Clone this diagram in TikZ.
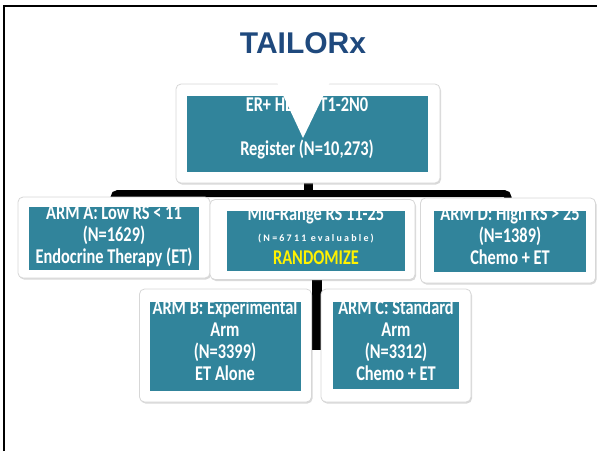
\documentclass[tikz,border=0pt]{standalone}
\usepackage{fontspec}
\usetikzlibrary{shadows,backgrounds}
\newfontfamily\boxfont[FakeStretch=0.78,BoldFont={Carlito Bold}]{Carlito}
\newfontfamily\spacedfont[LetterSpace=22]{Carlito}
\newfontfamily\titlefont{Liberation Sans}
\definecolor{panelteal}{RGB}{49,132,155}
\definecolor{titleblue}{RGB}{31,73,125}
\definecolor{cardline}{RGB}{215,215,215}

\begin{document}
\begin{tikzpicture}[x=1pt,y=-1pt]
    \tikzstyle{card}=[draw=cardline, fill=white, rounded corners=5pt, line width=0.8pt, inner sep=0pt,
        drop shadow={opacity=0.3, shadow xshift=1pt, shadow yshift=-1.5pt}]
    \tikzstyle{panel}=[fill=panelteal, inner sep=0pt]
    \tikzstyle{boxtext}=[text=white, align=center, inner sep=0pt, font=\boxfont\bfseries\fontsize{21}{22}\selectfont]
    \tikzstyle{conn}=[black, line width=8pt]
    \useasboundingbox (0,0) rectangle (597,451);
    % slide frame and title
    \draw[line width=2pt] (4,451) -- (4,6) -- (597,6);
    \node[text=titleblue, font=\titlefont\bfseries\fontsize{30}{32}\selectfont] (title) at (303,43) {TAILORx};
    % cards
    \node[card, minimum width=264, minimum height=99] (regcard) at (308,133.5) {};
    \node[panel, minimum width=241, minimum height=76] (reg) at (307.5,134) {};
    \node[card, minimum width=192, minimum height=81] (armacard) at (114,237.5) {};
    \node[panel, minimum width=170, minimum height=63] (arma) at (114,238.5) {};
    \node[card, minimum width=205, minimum height=80] (midcard) at (312.5,239.5) {};
    \node[panel, minimum width=178, minimum height=60] (mid) at (316,241) {};
    \node[card, minimum width=175, minimum height=85] (armdcard) at (508,240.5) {};
    \node[panel, minimum width=152, minimum height=61] (armd) at (510,241.5) {};
    \node[card, minimum width=172, minimum height=113] (armbcard) at (225.5,345.5) {};
    \node[panel, minimum width=151, minimum height=89] (armb) at (225.5,346.5) {};
    \node[card, minimum width=150, minimum height=113] (armccard) at (396,345.5) {};
    \node[panel, minimum width=126, minimum height=87] (armc) at (396,345.5) {};
    % texts
    \node[boxtext] (regtext) at (307,128.5) {ER+ HER2- T1-2N0\\[21.5pt]Register (N=10,273)};
    \node[boxtext] (armatext) at (114,236) {ARM A: Low RS < 11\\(N=1629)\\Endocrine Therapy (ET)};
    \node[boxtext] (midtop) at (316,215) {Mid-Range RS 11-25};
    \node[text=white, inner sep=0pt, font=\spacedfont\bfseries\fontsize{10}{11}\selectfont] (midcount) at (316,239) {(N=6711 evaluable)};
    \node[boxtext, text=yellow] (midrandom) at (316,258) {RANDOMIZE};
    \node[boxtext] (armdtext) at (510,235) {ARM D: High RS > 25\\(N=1389)\\Chemo + ET};
    \node[boxtext] (armbtext) at (225,340) {ARM B: Experimental\\Arm\\(N=3399)\\ET Alone};
    \node[boxtext] (armctext) at (396,340) {ARM C: Standard\\Arm\\(N=3312)\\Chemo + ET};
    % pointer cut over the register box
    \fill[white] (276,80) -- (331,80) -- (303,138) -- cycle;
    % connectors behind the cards
    \coordinate (junction) at (308,193.5);
    \coordinate (splitend) at (317,350);
    \begin{pgfonlayer}{background}
        \draw[conn, line width=7pt, rounded corners=4pt] (armacard.center) |- (junction) -| (armdcard.center);
        \draw[conn, line width=9pt] (regcard) -- (junction);
        \draw[conn, line width=10pt] (midcard.center -| splitend) -- (splitend);
    \end{pgfonlayer}
\end{tikzpicture}
\end{document}
